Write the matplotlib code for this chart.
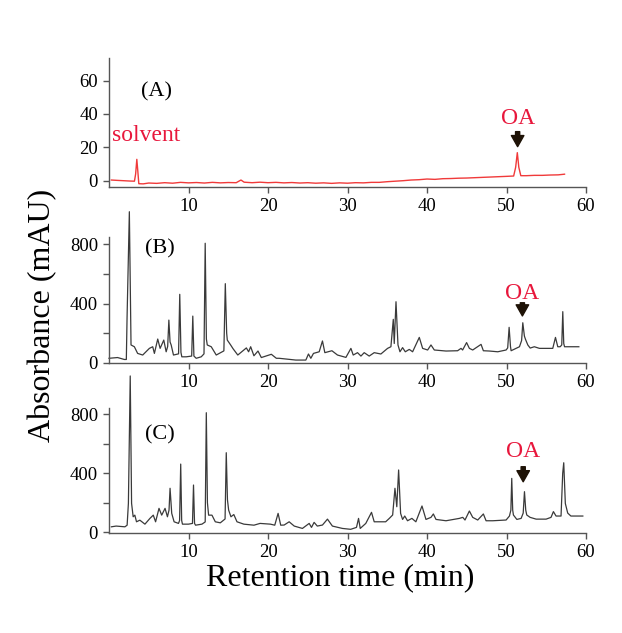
import numpy as np
import matplotlib
matplotlib.use('Agg')
import matplotlib.pyplot as plt

plt.rcParams['font.family'] = ['Liberation Serif', 'DejaVu Serif']

# (A) standard
time_a = [0.3, 1.0, 1.8, 2.6, 3.2, 3.35, 3.5, 3.62, 3.75, 4.3, 5.0, 6.0, 7.0, 8.0, 9.0,
          10.0, 11.0, 12.0, 13.0, 14.0, 15.0, 16.0, 16.6, 17.0, 18.0, 19.0, 20.0, 21.0,
          22.0, 23.0, 24.0, 25.0, 26.0, 27.0, 28.0, 29.0, 30.0, 31.0, 32.0, 33.0, 34.0,
          35.0, 36.0, 37.0, 38.0, 39.0, 40.0, 41.0, 42.0, 43.0, 44.0, 45.0, 46.0, 47.0,
          48.0, 49.0, 50.0, 50.9, 51.15, 51.36, 51.55, 51.8, 52.5, 53.5, 54.5, 55.5,
          56.5, 57.3]
abs_a = [0.4, 0.2, 0.0, -0.2, -0.3, 4.0, 12.8, 6.0, -1.8, -1.9, -1.4, -1.6, -1.2, -1.5,
         -1.0, -1.3, -1.1, -1.4, -1.0, -1.3, -1.1, -1.2, 0.4, -0.9, -1.2, -0.9, -1.2,
         -1.0, -1.3, -1.1, -1.4, -1.2, -1.5, -1.3, -1.6, -1.3, -1.5, -1.2, -1.3, -1.0,
         -1.0, -0.6, -0.3, 0.0, 0.4, 0.6, 1.0, 0.8, 1.2, 1.3, 1.5, 1.6, 1.8, 2.0, 2.2,
         2.4, 2.6, 2.8, 8.0, 16.8, 8.0, 3.0, 3.0, 3.2, 3.2, 3.4, 3.5, 3.9]

# (B) sample chromatogram
time_b = [0.0, 1.08, 1.93, 2.18, 2.27, 2.56, 2.77, 3.19, 3.6, 4.24, 5.08, 5.5, 5.71,
          6.13, 6.43, 6.89, 7.19, 7.38, 7.53, 7.68, 7.82, 8.11, 8.75, 8.9, 9.05, 9.16,
          9.71, 10.4, 10.54, 10.68, 10.97, 11.6, 11.95, 12.1, 12.25, 12.36, 12.86,
          13.49, 14.45, 14.63, 14.8, 14.88, 15.3, 15.6, 16.2, 17.28, 17.56, 17.82,
          18.23, 18.74, 19.16, 20.42, 21.05, 21.4, 23.5, 24.76, 25.09, 25.39, 25.72,
          26.44, 26.85, 27.15, 28.04, 28.74, 29.8, 30.43, 30.72, 31.26, 31.69, 32.1,
          32.73, 33.36, 34.2, 35.04, 35.46, 35.76, 35.88, 36.1, 36.35, 36.6, 36.93,
          37.27, 37.77, 38.19, 39.03, 39.45, 40.08, 40.5, 40.92, 42.39, 43.85, 44.28,
          44.48, 44.98, 45.33, 45.75, 46.8, 47.09, 47.85, 48.9, 49.95, 50.15, 50.33,
          50.5, 50.58, 51.2, 51.63, 51.9, 52.05, 52.25, 52.39, 52.68, 52.98, 53.5,
          54.14, 54.98, 55.82, 56.16, 56.45, 56.75, 56.95, 57.08, 57.2, 57.3, 59.1]
abs_b = [30, 35, 22, 22, 300, 1020, 120, 108, 63, 52, 97, 108, 63,
         160, 97, 153, 74, 110, 288, 140, 120, 52, 60, 462, 70, 40,
         40, 45, 315, 45, 30, 40, 60, 807, 160, 120, 108,
         52, 80, 534, 200, 153, 120, 95, 52, 100, 74, 108,
         47, 79, 35, 57, 30, 30, 18, 18, 59, 30, 63,
         74, 147, 68, 81, 52, 36, 97, 52, 68, 45, 68,
         45, 68, 59, 97, 108, 293, 130, 412, 120, 74, 102,
         74, 90, 74, 171, 97, 86, 120, 86, 79, 81, 97,
         86, 136, 97, 86, 124, 81, 79, 74, 86, 100, 239,
         110, 81, 97, 108, 150, 270, 180, 158, 120, 99, 108,
         97, 97, 97, 171, 108, 108, 120, 345, 130, 108, 108]

# (C) sample chromatogram
time_c = [0.3, 0.9, 2.0, 2.28, 2.44, 2.67, 2.84, 3.04, 3.25, 3.46, 3.88, 4.52, 5.15,
          5.57, 5.86, 6.29, 6.63, 7.05, 7.35, 7.55, 7.68, 7.89, 8.19, 8.74, 8.88, 9.02,
          9.14, 9.24, 10.0, 10.5, 10.63, 10.76, 10.89, 11.69, 12.1, 12.24, 12.38, 12.53,
          12.95, 13.37, 14.0, 14.6, 14.75, 14.9, 15.05, 15.34, 15.7, 16.1, 16.96, 18.23,
          19.0, 20.3, 20.85, 21.27, 21.6, 22.03, 22.66, 23.3, 24.33, 25.18, 25.47, 25.8,
          26.2, 26.85, 27.48, 28.1, 29.36, 30.4, 31.13, 31.39, 31.6, 32.3, 33.02, 33.36,
          34.8, 35.26, 35.68, 35.97, 36.2, 36.43, 36.68, 36.93, 37.2, 37.55, 38.1, 38.6,
          39.37, 39.87, 40.5, 40.8, 41.13, 42.39, 44.07, 44.5, 44.78, 45.33, 45.75,
          46.38, 47.09, 47.43, 48.27, 49.95, 50.37, 50.55, 50.66, 50.78, 50.87, 51.3,
          51.84, 52.1, 52.26, 52.42, 52.55, 52.97, 53.73, 54.98, 55.6, 55.9, 56.23,
          56.86, 57.07, 57.2, 57.4, 57.7, 58.1, 59.6]
abs_c = [37, 42, 37, 48, 196, 1059, 196, 105, 116, 71, 82, 55, 94,
         116, 71, 162, 116, 162, 105, 150, 298, 128, 71, 60, 80, 462,
         80, 55, 55, 60, 320, 60, 48, 55, 70, 810, 200, 116,
         116, 71, 64, 90, 539, 220, 150, 105, 120, 71, 55, 48,
         60, 55, 48, 128, 48, 49, 71, 42, 26, 60, 33, 67,
         42, 49, 89, 42, 26, 20, 33, 94, 26, 60, 135, 71,
         71, 94, 117, 298, 173, 422, 128, 87, 110, 78, 94, 71,
         178, 87, 101, 124, 87, 78, 94, 101, 83, 144, 101,
         83, 124, 78, 78, 83, 110, 150, 365, 150, 117, 87,
         94, 130, 275, 150, 117, 101, 89, 89, 101, 140, 110,
         110, 400, 471, 195, 130, 110, 110]

red = '#f03a3a'
label_red = '#e8173c'
arrow_col = '#1e1206'
spine_col = '#555555'

fig = plt.figure(figsize=(6.22, 6.33), dpi=100)

left = 109 / 622
width = 477 / 622
ax_a = fig.add_axes([left, 0.704, width, 0.204])
ax_b = fig.add_axes([left, 0.4265, width, 0.1995])
ax_c = fig.add_axes([left, 0.1575, width, 0.1975])

ax_a.plot(time_a, abs_a, color=red, lw=1.0, clip_on=False)
ax_b.plot(time_b, abs_b, color='#3a3a3a', lw=0.9, clip_on=False)
ax_c.plot(time_c, abs_c, color='#3a3a3a', lw=0.9, clip_on=False)

ax_a.set_ylim(-4, 73.4)
ax_a.set_yticks([0, 20, 40, 60])
ax_b.set_ylim(-2, 851)
ax_c.set_ylim(-7, 840)
for ax in (ax_b, ax_c):
    ax.set_yticks([0, 400, 800])
    ax.set_yticks([200, 600], minor=True)

for ax in (ax_a, ax_b, ax_c):
    ax.set_xlim(0, 60)
    ax.set_xticks([10, 20, 30, 40, 50, 60])
    ax.spines['top'].set_visible(False)
    ax.spines['right'].set_visible(False)
    for s in ('left', 'bottom'):
        ax.spines[s].set_color(spine_col)
        ax.spines[s].set_linewidth(1.0)
    ax.tick_params(which='both', direction='out', length=4, width=1, color=spine_col,
                   labelsize=13.5, pad=4)
    ax.patch.set_alpha(0)

# panel letters
ax_a.text(6.0, 53, '(A)', fontsize=16, ha='center', va='center')
ax_b.text(6.4, 768, '(B)', fontsize=16, ha='center', va='center')
ax_c.text(6.4, 663, '(C)', fontsize=16, ha='center', va='center')

ax_a.text(0.4, 27, 'solvent', color=label_red, fontsize=17, ha='left', va='center')

# OA marks: text and arrow for each panel
oa_a = (51.4, 37.4, 29.4, 20.4)
oa_b = (52.0, 469, 405, 316)
oa_c = (52.1, 546, 444, 342)
arrow_style = 'simple,head_length=0.8,head_width=0.9,tail_width=0.3'
for ax, (t, ytxt, y0, y1) in zip((ax_a, ax_b, ax_c), (oa_a, oa_b, oa_c)):
    ax.text(t, ytxt, 'OA', color=label_red, fontsize=17, ha='center', va='center')
    ax.annotate('', xy=(t, y1), xytext=(t, y0),
                arrowprops=dict(arrowstyle=arrow_style, color=arrow_col,
                                mutation_scale=10, shrinkA=0, shrinkB=0))

fig.text(43 / 622, 1 - 315 / 633, 'Absorbance (mAU)', rotation=90, fontsize=23,
         ha='center', va='center')
fig.text(340 / 622, 1 - 578 / 633, 'Retention time (min)', fontsize=23,
         ha='center', va='center')

fig.savefig('out.png', dpi=100)
